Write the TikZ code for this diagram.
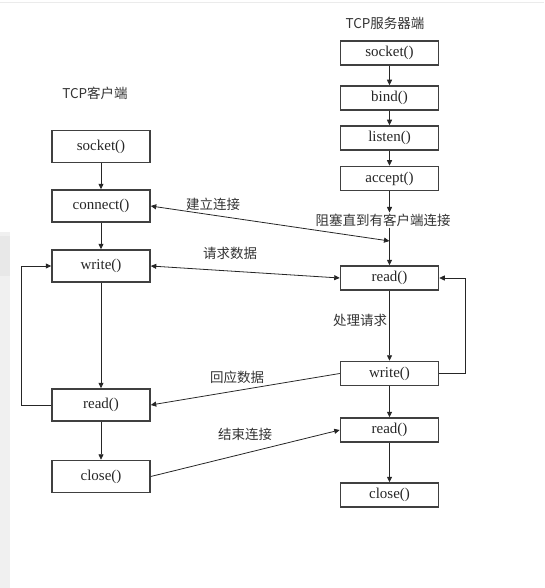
\documentclass[tikz,border=0pt]{standalone}
\usepackage{fontspec}
\setmainfont{Liberation Serif}
\newfontfamily\cjk{Noto Sans CJK SC}
\usetikzlibrary{arrows.meta,positioning}

\begin{document}
\begin{tikzpicture}[x=1pt,y=-1pt,
    box/.style={draw=black!75, line width=1.5pt, minimum width=98pt, inner sep=0pt, text=black!85, font=\fontsize{15}{17}\selectfont},
    cbox/.style={box, minimum height=32pt},
    sbox/.style={box, minimum height=24pt},
    lbl/.style={text=black!80, font=\cjk\fontsize{13.5}{16}\selectfont},
    link/.style={draw=black!85, line width=0.8pt},
    >={Triangle[length=5.5pt,width=5pt]}]
    \useasboundingbox (0,0) rectangle (544,588);
    \fill[black!6] (0,232) rectangle (10,588);
    \fill[black!9] (0,236) rectangle (10,276);
    \draw[black!8] (0,2) -- (544,2);

    % Client
    \node[lbl] (ctitle) at (95,93) {TCP客户端};
    \node[cbox] (csock) at (101,146.5) {socket()};
    \node[cbox] (cconn) at (101,206) {connect()};
    \node[cbox] (cwrite) at (101,266) {write()};
    \node[cbox] (cread) at (101,405) {read()};
    \node[cbox] (cclose) at (101,476.5) {close()};

    % Server
    \node[lbl] (stitle) at (385,23) {TCP服务器端};
    \node[sbox] (ssock) at (389.5,53) {socket()};
    \node[sbox] (sbind) at (389.5,98) {bind()};
    \node[sbox] (slisten) at (389.5,138) {listen()};
    \node[sbox] (saccept) at (389.5,178.5) {accept()};
    \node[lbl, inner sep=1pt] (sblock) at (383,220) {阻塞直到有客户端连接};
    \node[sbox] (sread) at (389.5,278) {read()};
    \node[sbox] (swrite) at (389.5,373.5) {write()};
    \node[sbox] (sread2) at (389.5,430) {read()};
    \node[sbox] (sclose) at (389.5,495) {close()};
    \coordinate (join) at (389.5,241);

    % Labels on the links
    \node[lbl] (lconn) at (213,204) {建立连接};
    \node[lbl] (lreq) at (230,253) {请求数据};
    \node[lbl] (lproc) at (360,320) {处理请求};
    \node[lbl] (lresp) at (237,377) {回应数据};
    \node[lbl] (lend) at (245,434) {结束连接};

    % Client flow
    \draw[link, ->] (csock) -- (cconn);
    \draw[link, ->] (cconn) -- (cwrite);
    \draw[link, ->] (cwrite) -- (cread);
    \draw[link, ->] (cread) -- (cclose);
    \draw[link, ->] (cread.west) -- ++(-30,0) |- (cwrite.west);

    % Server flow
    \draw[link, ->] (ssock) -- (sbind);
    \draw[link, ->] (sbind) -- (slisten);
    \draw[link, ->] (slisten) -- (saccept);
    \draw[link, ->] (saccept) -- (saccept |- sblock.north);
    \draw[link, ->] (saccept |- sblock.south) -- (sread);
    \draw[link, ->] (sread) -- (swrite);
    \draw[link, ->] (swrite.east) -- ++(26,0) |- (sread.east);
    \draw[link, ->] (swrite) -- (sread2);
    \draw[link, ->] (sread2) -- (sclose);

    % Between the two sides
    \draw[link, <->] (cconn.east) -- (join);
    \draw[link, <->] (cwrite.east) -- (sread.west);
    \draw[link, ->] (swrite.west) -- (cread.east);
    \draw[link, ->] (cclose.east) -- (sread2.west);
\end{tikzpicture}
\end{document}
